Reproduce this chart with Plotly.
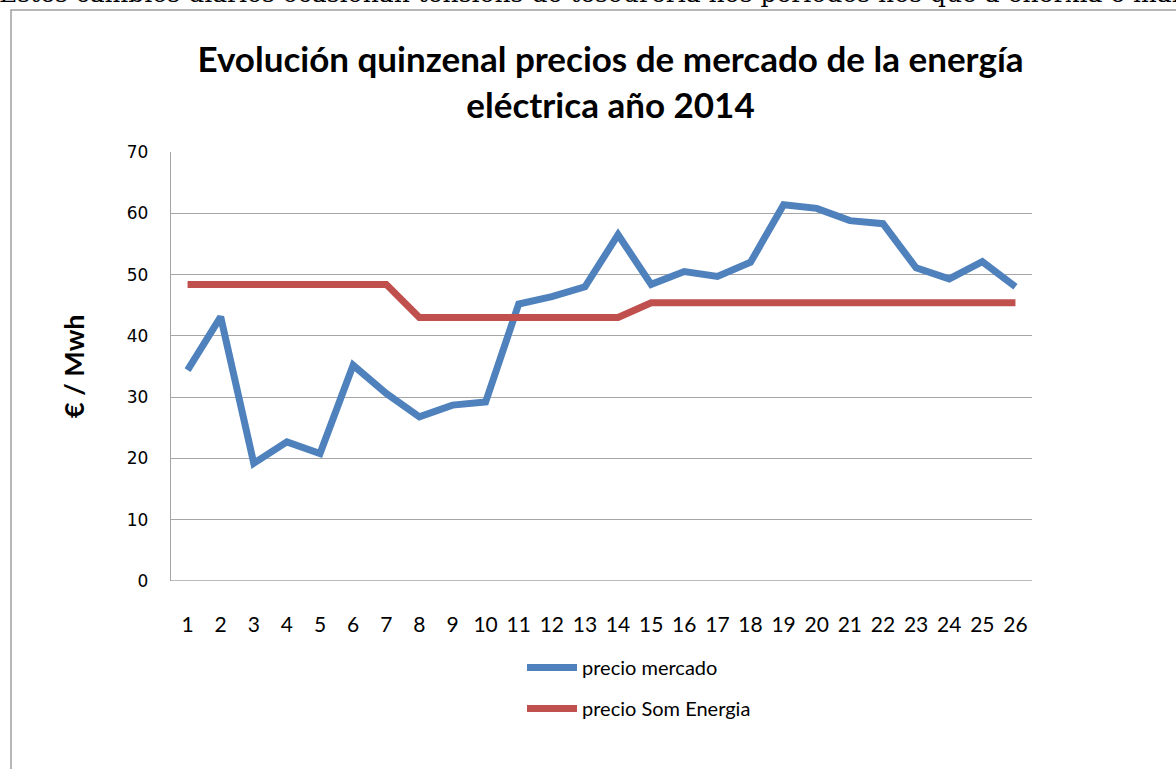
import plotly.graph_objects as go

quincenas = list(range(1, 27))
precio_mercado = [34.4, 43.1, 19.2, 22.7, 20.8, 35.2, 30.6, 26.8, 28.7, 29.2,
                  45.2, 46.4, 48.0, 56.5, 48.4, 50.5, 49.7, 52.0, 61.4, 60.8,
                  58.8, 58.3, 51.1, 49.3, 52.1, 48.0]
precio_som = [48.4] * 7 + [43.0] * 7 + [45.4] * 12
y_ticks = [0, 10, 20, 30, 40, 50, 60, 70]

W, H = 1176, 769
L, R, T, B = 171, 1032, 152, 581
pw, ph = R - L, B - T

def px(x):
    return (x - L) / pw

def py(y):
    return (B - y) / ph

narrow = "Lato, Open Sans, sans-serif"

fig = go.Figure()
fig.add_trace(go.Scatter(x=quincenas, y=precio_mercado, mode="lines", name="precio mercado",
                         line=dict(color="#4F81BD", width=7), legendgroup="a"))
fig.add_trace(go.Scatter(x=quincenas, y=precio_som, mode="lines", name="precio Som Energia",
                         line=dict(color="#C0504D", width=7), legendgroup="b"))

fig.update_layout(
    width=W, height=H,
    margin=dict(l=L, r=W - R, t=T, b=H - B, pad=0),
    paper_bgcolor="white", plot_bgcolor="white",
    showlegend=True,
    legend=dict(x=px(522), y=py(648), xanchor="left", yanchor="top",
                font=dict(family=narrow, size=20, color="#000000"),
                traceorder="grouped", tracegroupgap=12, itemwidth=50,
                bgcolor="rgba(0,0,0,0)"),
    xaxis=dict(range=[0.5, 26.5], tickmode="array", tickvals=quincenas,
               ticktext=[str(q) for q in quincenas], showgrid=False, zeroline=False,
               showline=False, ticks="", ticklabelstandoff=29,
               tickfont=dict(family=narrow, size=21, color="#000000"), fixedrange=True),
    yaxis=dict(range=[0, 70], tickmode="array", tickvals=y_ticks,
               showgrid=True, gridcolor="#A6A6A6", gridwidth=1.3, zeroline=False,
               showline=True, linecolor="#A6A6A6", linewidth=1.3, mirror=False,
               ticks="", ticklabelstandoff=18,
               tickfont=dict(family="DejaVu Sans, Verdana, sans-serif", size=17, color="#000000"),
               fixedrange=True),
    title=dict(text="<b>Evolución quinzenal precios de mercado de la energía<br>eléctrica año 2014</b>",
               x=px(618), xanchor="center", y=1 - 72 / H, yanchor="middle",
               font=dict(family="Lato, Open Sans, sans-serif", size=35, color="#000000")),
)

# bottom axis line
fig.add_shape(type="line", xref="paper", yref="y", x0=0, x1=1, y0=0, y1=0,
              line=dict(color="#A6A6A6", width=1.3))
# outer chart frame (cropped)
fig.add_shape(type="rect", xref="paper", yref="paper",
              x0=px(11), x1=px(1190), y0=py(790), y1=py(10),
              line=dict(color="#A0A0A0", width=1.5), layer="below")

# y-axis title
fig.add_annotation(text="<b>€ / Mwh</b>", xref="paper", yref="paper",
                   x=px(73), y=py(366), xanchor="center", yanchor="middle",
                   textangle=-90, showarrow=False,
                   font=dict(family="Lato, Open Sans, sans-serif", size=27, color="#000000"))

# cropped line of document text above the chart
fig.add_annotation(text="Estes cambios diarios ocasionan tensions de tesourería nos períodos nos que a enerxía é máis cara",
                   xref="paper", yref="paper", x=px(-3), y=py(10), xanchor="left", yanchor="bottom",
                   showarrow=False,
                   font=dict(family="DejaVu Serif, Liberation Serif, serif", size=25, color="#000000"))

fig.write_html("out.html", config={"displayModeBar": False},
               post_script="document.body.style.margin='0';document.body.style.overflow='hidden';")
